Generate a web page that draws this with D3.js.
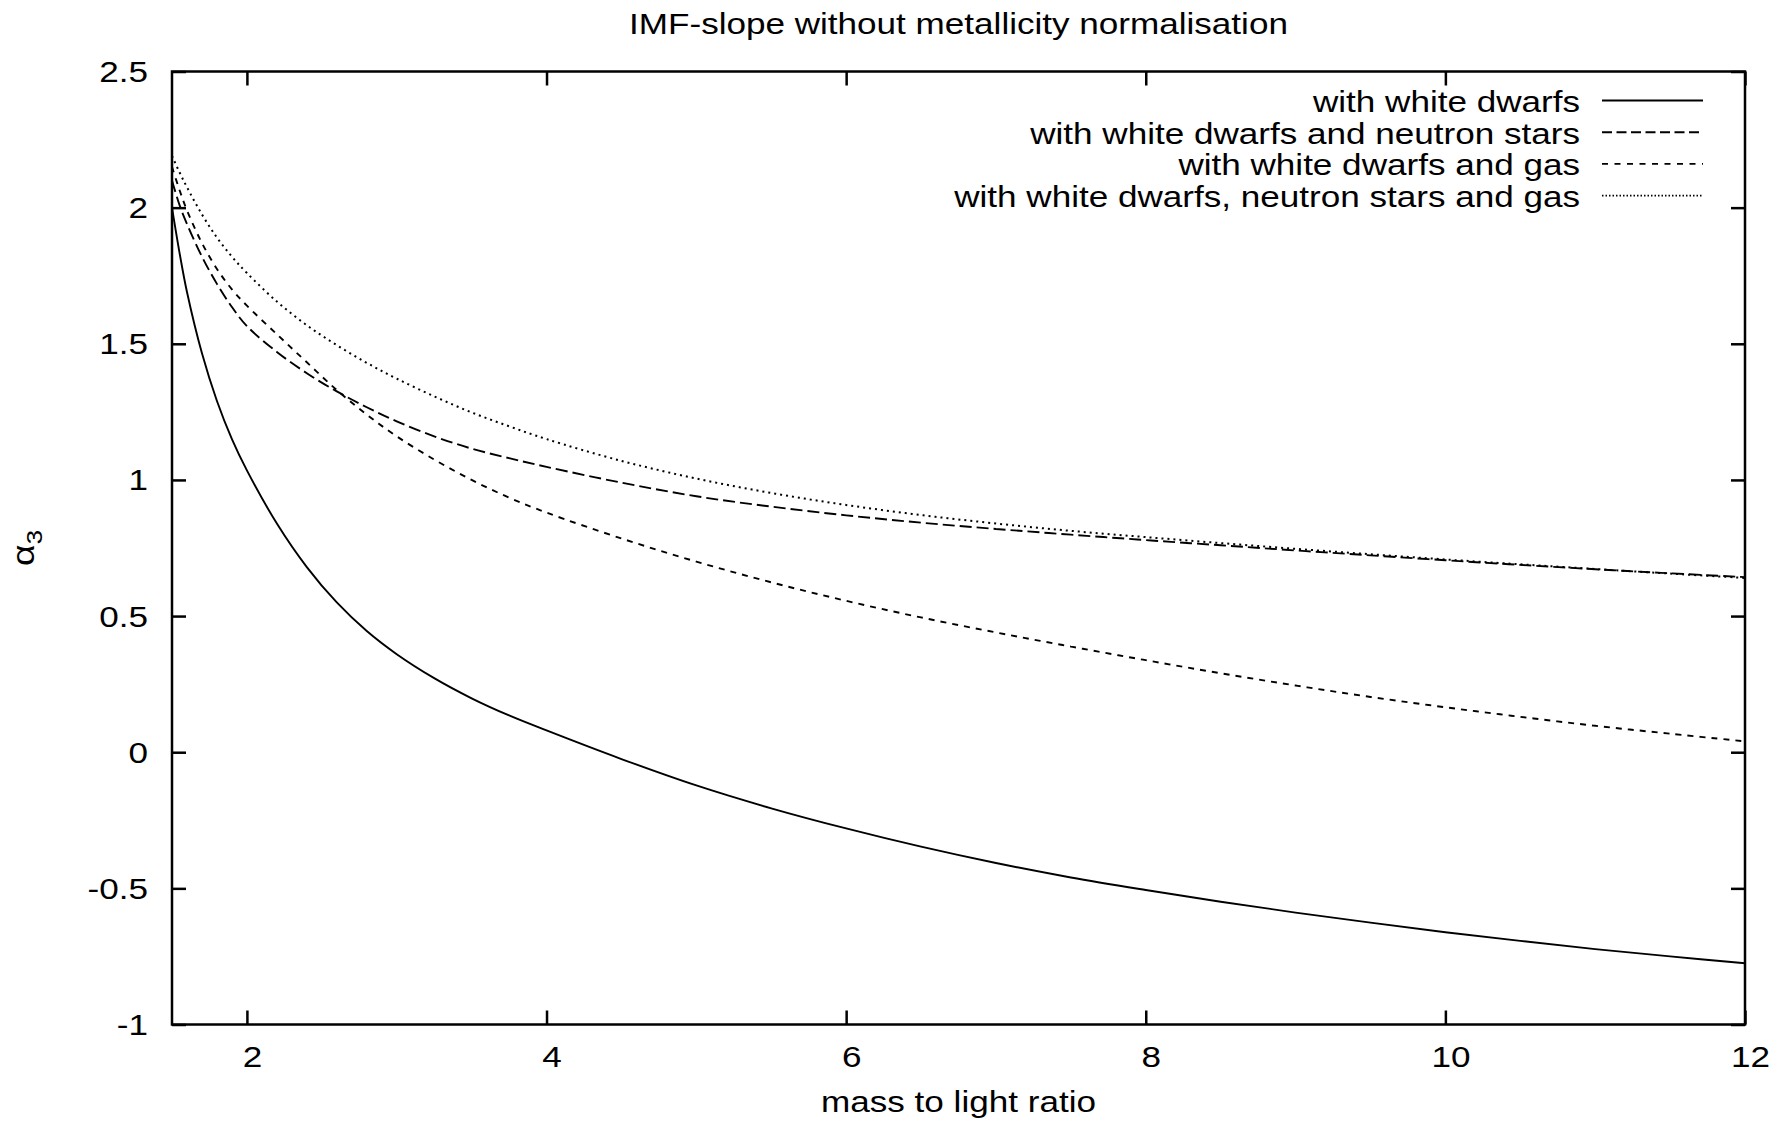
<!DOCTYPE html>
<html>
<head>
<meta charset="utf-8">
<script src="https://cdn.jsdelivr.net/npm/d3@7"></script>
<style>
  html, body { margin: 0; padding: 0; background: #fff; }
  svg { display: block; }
  text { font-family: "Liberation Sans", Arial, Helvetica, sans-serif; fill: #000; }
</style>
</head>
<body>
<svg id="chart" width="1782" height="1122"></svg>
<script>
// ---------------- data ----------------
const massToLight = [1.5, 1.55, 1.6, 1.7, 1.8, 1.9, 2.0, 2.2, 2.4, 2.6, 2.8, 3.0, 3.25, 3.5, 3.75, 4.0,
                     4.5, 5.0, 5.5, 6.0, 6.5, 7.0, 7.5, 8.0, 8.5, 9.0, 9.5, 10.0, 10.5, 11.0, 11.5, 12.0];

const withWhiteDwarfs = [2.00, 1.835, 1.69, 1.465, 1.29, 1.15, 1.035, 0.84, 0.68, 0.55, 0.445, 0.36, 0.272, 0.198, 0.135, 0.08,
                         -0.025, -0.122, -0.206, -0.28, -0.347, -0.407, -0.46, -0.506, -0.549, -0.589, -0.626, -0.661, -0.693, -0.723, -0.75, -0.775];

const withWhiteDwarfsNeutronStars = [2.10, 2.01, 1.94, 1.82, 1.72, 1.635, 1.565, 1.47, 1.392, 1.325, 1.267, 1.215, 1.16, 1.115, 1.08, 1.048,
                                     0.99, 0.94, 0.902, 0.87, 0.843, 0.82, 0.799, 0.779, 0.76, 0.741, 0.723, 0.705, 0.688, 0.672, 0.657, 0.643];

const withWhiteDwarfsGas = [2.15, 2.065, 1.99, 1.87, 1.775, 1.70, 1.64, 1.535, 1.432, 1.33, 1.24, 1.16, 1.075, 1.00, 0.935, 0.88,
                            0.785, 0.70, 0.624, 0.556, 0.495, 0.44, 0.388, 0.338, 0.29, 0.245, 0.203, 0.165, 0.13, 0.097, 0.068, 0.04];

const withWhiteDwarfsNeutronStarsGas = [2.19, 2.13, 2.075, 1.975, 1.89, 1.82, 1.76, 1.655, 1.568, 1.495, 1.43, 1.372, 1.307, 1.248, 1.197, 1.15,
                                        1.07, 1.005, 0.952, 0.908, 0.871, 0.84, 0.813, 0.79, 0.768, 0.747, 0.727, 0.708, 0.69, 0.673, 0.656, 0.64];

const seriesNames = [
  "with white dwarfs",
  "with white dwarfs and neutron stars",
  "with white dwarfs and gas",
  "with white dwarfs, neutron stars and gas"
];
const seriesValues = [withWhiteDwarfs, withWhiteDwarfsNeutronStars, withWhiteDwarfsGas, withWhiteDwarfsNeutronStarsGas];

const xTicks = [2, 4, 6, 8, 10, 12];
const yTicks = [-1, -0.5, 0, 0.5, 1, 1.5, 2, 2.5];
const xDomain = [1.5, 12];
const yDomain = [-1, 2.5];
const titleText = "IMF-slope without metallicity normalisation";
const xLabelText = "mass to light ratio";
const yLabelMain = "\u03B1";
const yLabelSub = "3";

// ---------------- styles ----------------
const curveDash = [null, "12,5", "6,6", "2,4"];
const legendDash = [null, "10,4.5", "6,6.5", "1.5,2"];
const FS = 30, SX = 1.17;

// ---------------- layout ----------------
const svg = d3.select("#chart");
const plot = { left: 172, right: 1745, top: 71.5, bottom: 1024.5 };
const x = d3.scaleLinear().domain(xDomain).range([plot.left, plot.right]);
const y = d3.scaleLinear().domain(yDomain).range([plot.bottom, plot.top]);
const tickLen = 14;

function styleAxis(g) {
  g.select(".domain").remove();
  g.selectAll(".tick line").attr("stroke", "#000").attr("stroke-width", 2.5);
  g.selectAll(".tick text").remove();
}

svg.append("g").attr("transform", `translate(0,${plot.bottom})`)
  .call(d3.axisBottom(x).tickValues(xTicks).tickSize(-tickLen).tickSizeOuter(0)).call(styleAxis);
svg.append("g").attr("transform", `translate(0,${plot.top})`)
  .call(d3.axisTop(x).tickValues(xTicks).tickSize(-tickLen).tickSizeOuter(0)).call(styleAxis);
svg.append("g").attr("transform", `translate(${plot.left},0)`)
  .call(d3.axisLeft(y).tickValues(yTicks).tickSize(-tickLen).tickSizeOuter(0)).call(styleAxis);
svg.append("g").attr("transform", `translate(${plot.right},0)`)
  .call(d3.axisRight(y).tickValues(yTicks).tickSize(-tickLen).tickSizeOuter(0)).call(styleAxis);

// frame
svg.append("rect")
  .attr("x", plot.left).attr("y", plot.top)
  .attr("width", plot.right - plot.left).attr("height", plot.bottom - plot.top)
  .attr("fill", "none").attr("stroke", "#000").attr("stroke-width", 2.5);

// tick labels
svg.append("g").selectAll("text").data(xTicks).join("text")
  .attr("transform", d => `translate(${x(d) + 5.5},1067) scale(${SX},1)`)
  .attr("text-anchor", "middle").style("font-size", FS + "px")
  .text(d => String(d));

svg.append("g").selectAll("text").data(yTicks).join("text")
  .attr("transform", d => `translate(148,${y(d) + 10.5}) scale(${SX},1)`)
  .attr("text-anchor", "end").style("font-size", FS + "px")
  .text(d => String(d));

// curves
const line = d3.line().x(d => x(d[0])).y(d => y(d[1])).curve(d3.curveCatmullRom.alpha(0.5));
seriesValues.forEach((vals, i) => {
  const p = svg.append("path")
    .datum(massToLight.map((m, j) => [m, vals[j]]))
    .attr("d", line)
    .attr("fill", "none").attr("stroke", "#000")
    .attr("stroke-width", i === 3 ? 2 : 1.9);
  if (curveDash[i]) p.attr("stroke-dasharray", curveDash[i]);
});

// legend
const legend = svg.append("g");
seriesNames.forEach((name, i) => {
  const base = 112 + i * 31.7;
  legend.append("text")
    .attr("transform", `translate(1580,${base}) scale(${SX},1)`)
    .attr("text-anchor", "end").style("font-size", FS + "px")
    .text(name);
  const l = legend.append("line")
    .attr("x1", 1602).attr("x2", 1703)
    .attr("y1", base - 11.5).attr("y2", base - 11.5)
    .attr("stroke", "#000").attr("stroke-width", i === 3 ? 1.6 : 1.9);
  if (legendDash[i]) l.attr("stroke-dasharray", legendDash[i]);
});

// title and axis labels
svg.append("text")
  .attr("transform", `translate(${(plot.left + plot.right) / 2},34) scale(${SX},1)`)
  .attr("text-anchor", "middle").style("font-size", FS + "px")
  .text(titleText);

svg.append("text")
  .attr("transform", `translate(${(plot.left + plot.right) / 2},1112) scale(${SX},1)`)
  .attr("text-anchor", "middle").style("font-size", FS + "px")
  .text(xLabelText);

const yl = svg.append("text")
  .attr("transform", `translate(34,${(plot.top + plot.bottom) / 2}) rotate(-90) scale(${SX},1)`)
  .attr("text-anchor", "middle").style("font-size", "32px");
yl.append("tspan").text(yLabelMain);
yl.append("tspan").attr("dy", 8).style("font-size", "22px").text(yLabelSub);
</script>
</body>
</html>
